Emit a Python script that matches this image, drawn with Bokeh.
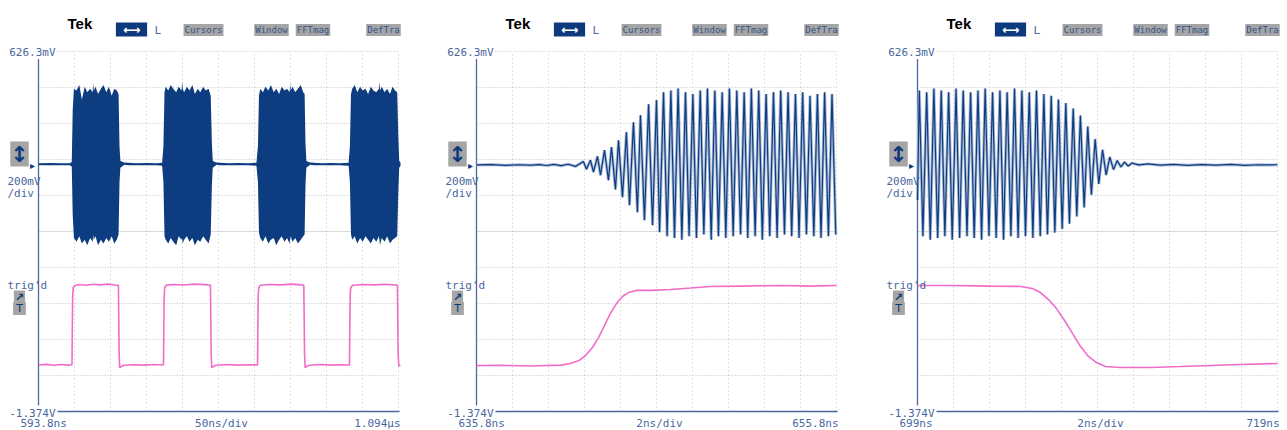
from bokeh.plotting import figure
from bokeh.models import Label
from bokeh.layouts import row
from bokeh.embed import file_html
from bokeh.resources import INLINE

# ---------------- scope settings ----------------
V_TOP = 0.6263
V_BOT = -1.3737
V_DIV = 0.2

PANEL_T0 = [593.8, 635.8, 699.0]
PANEL_TDIV = [50.0, 2.0, 2.0]
TIME_LEFT = ["593.8ns", "635.8ns", "699ns"]
TIME_MID = ["50ns/div", "2ns/div", "2ns/div"]
TIME_RIGHT = ["1.094µs", "655.8ns", "719ns"]
BUTTONS = ["Cursors", "Window", "FFTmag", "DefTra"]

# ---------------- panel 1 : burst envelope (ch1) ----------------
T1 = [593.8, 610.0, 625.0, 637.0, 640.0,
      641.3, 643.0, 646.5, 650.5, 654.0, 658.0, 661.5, 665.5, 669.0, 669.8, 670.6, 673.0, 676.5, 680.5, 684.0, 688.0, 691.5, 695.5, 699.0, 702.5, 705.0, 706.3,
      707.5, 710.0, 713.0, 718.0, 730.0, 745.0, 758.0, 765.5,
      767.3, 768.8, 770.5, 774.0, 777.5, 781.0, 785.0, 788.5, 792.5, 793.3, 794.1, 796.0, 800.0, 803.5, 807.5, 811.0, 815.0, 818.5, 822.5, 826.0, 830.0, 833.0, 834.6,
      835.8, 838.0, 841.0, 846.0, 858.0, 872.0, 886.0, 896.5,
      898.6, 900.0, 901.8, 905.5, 909.0, 913.0, 916.5, 920.5, 924.0, 928.0, 931.5, 935.5, 939.0, 942.5, 943.3, 944.1, 946.5, 950.5, 954.0, 958.0, 961.5, 963.4, 964.6,
      965.8, 968.0, 971.0, 976.0, 988.0, 1000.0, 1012.0, 1024.5,
      1026.3, 1027.8, 1029.5, 1033.0, 1036.5, 1040.5, 1044.0, 1048.0, 1051.5, 1055.5, 1059.0, 1063.0, 1066.5, 1067.3, 1068.1, 1070.5, 1074.5, 1078.0, 1082.0, 1085.5, 1089.0, 1092.0, 1093.6,
      1094.8, 1096.6]
HI1 = [0.006, 0.007, 0.006, 0.006, 0.012,
       0.30, 0.42, 0.41, 0.44, 0.36, 0.43, 0.40, 0.42, 0.40, 0.45, 0.41, 0.43, 0.39, 0.42, 0.44, 0.40, 0.43, 0.38, 0.42, 0.41, 0.39, 0.10,
       0.02, 0.014, 0.010, 0.008, 0.006, 0.007, 0.006, 0.008,
       0.10, 0.40, 0.43, 0.41, 0.44, 0.42, 0.40, 0.43, 0.41, 0.46, 0.42, 0.40, 0.43, 0.41, 0.44, 0.39, 0.42, 0.40, 0.43, 0.41, 0.42, 0.38, 0.12,
       0.02, 0.014, 0.010, 0.008, 0.006, 0.007, 0.006, 0.008,
       0.10, 0.38, 0.42, 0.40, 0.43, 0.41, 0.44, 0.40, 0.42, 0.39, 0.43, 0.41, 0.42, 0.40, 0.45, 0.41, 0.43, 0.40, 0.42, 0.44, 0.40, 0.39, 0.12,
       0.02, 0.014, 0.010, 0.008, 0.006, 0.007, 0.006, 0.008,
       0.10, 0.39, 0.42, 0.44, 0.40, 0.43, 0.41, 0.42, 0.39, 0.43, 0.41, 0.40, 0.42, 0.46, 0.41, 0.43, 0.40, 0.42, 0.39, 0.43, 0.41, 0.40, 0.15,
       0.02, 0.008]
LO1 = [-0.006, -0.005, -0.006, -0.006, -0.012,
       -0.28, -0.41, -0.43, -0.40, -0.44, -0.42, -0.45, -0.41, -0.43, -0.39, -0.42, -0.40, -0.45, -0.42, -0.44, -0.41, -0.43, -0.40, -0.44, -0.42, -0.39, -0.10,
       -0.02, -0.012, -0.003, -0.006, -0.006, -0.005, -0.006, -0.008,
       -0.10, -0.40, -0.42, -0.44, -0.41, -0.43, -0.45, -0.40, -0.42, -0.41, -0.44, -0.42, -0.40, -0.43, -0.41, -0.45, -0.42, -0.43, -0.40, -0.42, -0.44, -0.39, -0.12,
       -0.02, -0.012, -0.003, -0.006, -0.006, -0.005, -0.006, -0.008,
       -0.10, -0.38, -0.41, -0.43, -0.40, -0.44, -0.42, -0.41, -0.45, -0.42, -0.40, -0.43, -0.41, -0.44, -0.42, -0.40, -0.43, -0.41, -0.44, -0.42, -0.40, -0.39, -0.12,
       -0.02, -0.012, -0.003, -0.006, -0.006, -0.005, -0.006, -0.008,
       -0.10, -0.39, -0.42, -0.40, -0.44, -0.41, -0.43, -0.40, -0.42, -0.44, -0.41, -0.43, -0.40, -0.42, -0.45, -0.41, -0.43, -0.40, -0.44, -0.42, -0.41, -0.40, -0.15,
       -0.02, -0.008]

# ---------------- panel 1 : gate (ch2) ----------------
P1_T = [593.8, 605, 615, 625, 635, 640.3, 641.2, 642.0, 644.0, 650, 660, 670, 680, 690, 700, 704.8, 705.8, 706.6, 708.5, 712,
        725, 740, 755, 767.4, 768.3, 769.1, 771, 780, 795, 810, 825, 832.6, 833.6, 834.4, 836.5, 840,
        855, 870, 885, 898.0, 898.9, 899.7, 902, 915, 930, 945, 958, 962.3, 963.3, 964.1, 966, 970,
        985, 1000, 1015, 1025.7, 1026.6, 1027.4, 1030, 1045, 1060, 1075, 1088, 1092.3, 1093.3, 1094.2, 1096.5]
P1_V = [-1.115, -1.112, -1.117, -1.113, -1.116, -1.114, -0.74, -0.685, -0.675, -0.668, -0.672, -0.667, -0.670, -0.666, -0.671, -0.673, -1.05, -1.13, -1.125, -1.117,
        -1.114, -1.116, -1.113, -1.115, -0.74, -0.685, -0.673, -0.668, -0.671, -0.666, -0.669, -0.672, -1.05, -1.13, -1.124, -1.117,
        -1.113, -1.116, -1.114, -1.115, -0.74, -0.686, -0.672, -0.668, -0.670, -0.666, -0.670, -0.673, -1.05, -1.13, -1.124, -1.117,
        -1.113, -1.116, -1.114, -1.115, -0.74, -0.686, -0.672, -0.668, -0.670, -0.667, -0.670, -0.673, -1.05, -1.12, -1.118]

# ---------------- panel 2 : burst start ----------------
E2_T = [635.8, 636.6, 637.4, 638.2, 638.8, 639.3, 639.7, 640.1, 640.5, 640.9, 641.3,
        641.74, 641.91, 642.13, 642.30, 642.52, 642.69, 642.91, 643.13, 643.30, 643.52, 643.69, 643.91,
        644.13, 644.30, 644.52, 644.74, 644.91, 645.13, 645.36, 645.58, 645.80, 645.97,
        646.19, 646.39, 646.60, 646.80, 647.00, 647.21, 647.41, 647.61, 647.82, 648.02, 648.23, 648.43,
        648.63, 648.84, 649.04, 649.24, 649.45, 649.65, 649.85, 650.06, 650.26, 650.47, 650.67, 650.87,
        651.07, 651.28, 651.48, 651.68, 651.89, 652.09, 652.30, 652.50, 652.70, 652.91, 653.11, 653.31,
        653.52, 653.72, 653.92, 654.13, 654.33, 654.54, 654.74, 654.94, 655.14, 655.35, 655.55, 655.76]
E2_V = [-0.004, -0.002, -0.006, -0.003, -0.005, -0.002, -0.007, -0.001, -0.008, 0.0, -0.012,
        0.015, -0.028, 0.022, -0.044, 0.044, -0.061, 0.078, -0.089, 0.095, -0.14, 0.133, -0.183,
        0.178, -0.228, 0.233, -0.267, 0.272, -0.311, 0.333, -0.339, 0.356, -0.378,
        0.40, -0.40, 0.41, -0.41, 0.42, -0.42, 0.40, -0.40, 0.39, -0.41, 0.41, -0.39,
        0.42, -0.42, 0.41, -0.40, 0.40, -0.41, 0.42, -0.40, 0.41, -0.39, 0.40, -0.41,
        0.42, -0.40, 0.41, -0.42, 0.39, -0.40, 0.40, -0.41, 0.41, -0.39, 0.40, -0.40,
        0.39, -0.41, 0.40, -0.39, 0.38, -0.40, 0.39, -0.41, 0.40, -0.40, 0.39, -0.39]
P2_T = [635.8, 637.1, 638.8, 640.5, 641.0, 641.5, 641.86, 642.24, 642.58, 642.91, 643.24, 643.58, 643.91,
        644.24, 644.69, 645.47, 646.58, 647.69, 648.8, 650.47, 652.69, 654.36, 655.8]
P2_V = [-1.118, -1.117, -1.121, -1.116, -1.107, -1.090, -1.063, -1.018, -0.963, -0.896, -0.829, -0.774, -0.735,
        -0.713, -0.701, -0.701, -0.696, -0.688, -0.679, -0.677, -0.674, -0.677, -0.674]

# ---------------- panel 3 : burst end ----------------
E3_T = [699.00, 699.10, 699.30, 699.51, 699.71, 699.91, 700.12, 700.32, 700.52, 700.73, 700.93,
        701.14, 701.34, 701.54, 701.75, 701.95, 702.15, 702.36, 702.56, 702.76, 702.97, 703.17, 703.37,
        703.58, 703.78, 703.98, 704.19, 704.39, 704.59, 704.80, 705.00, 705.21, 705.41, 705.61, 705.82,
        706.02, 706.22, 706.43, 706.63, 706.83, 707.04, 707.24, 707.44, 707.65, 707.85, 708.05, 708.26,
        708.46, 708.66, 708.87, 709.07, 709.28, 709.48, 709.68, 709.89,
        710.09, 710.30, 710.50, 710.71, 710.91, 711.3, 711.8, 712.5, 713.2, 714.0, 714.8, 715.6, 716.4,
        717.2, 718.0, 718.6, 719.0]
E3_V = [-0.20,
        0.41, -0.40, 0.40, -0.42, 0.42, -0.41, 0.41, -0.40, 0.40, -0.42,
        0.42, -0.41, 0.41, -0.40, 0.40, -0.41, 0.41, -0.42, 0.42, -0.40, 0.40, -0.41,
        0.41, -0.42, 0.40, -0.40, 0.42, -0.41, 0.41, -0.40, 0.40, -0.41, 0.41, -0.40,
        0.39, -0.39, 0.38, -0.38, 0.36, -0.36, 0.34, -0.33, 0.31, -0.29, 0.27, -0.24,
        0.21, -0.17, 0.14, -0.11, 0.08, -0.06, 0.04, -0.03,
        0.02, -0.015, 0.012, -0.01, 0.006, -0.004, 0.002, -0.005, -0.001, -0.006, -0.002, -0.005, -0.001,
        -0.006, -0.003, -0.004, -0.003]
P3_T = [699.0, 700.83, 703.06, 704.72, 705.39, 705.83, 706.28, 706.72, 707.17, 707.61, 708.06, 708.5,
        708.94, 709.44, 710.28, 711.94, 713.61, 715.28, 716.94, 719.0]
P3_V = [-0.674, -0.674, -0.677, -0.679, -0.690, -0.713, -0.752, -0.802, -0.868, -0.940, -1.013, -1.068,
        -1.102, -1.124, -1.129, -1.129, -1.124, -1.118, -1.113, -1.107]

# ---------------- styling ----------------
TXT = "#4a679e"
NAVY = "#0d3a7c"
TRACE = "#0e3c80"
LIGHT = "#a9bad4"
PINK = "#f26bc9"
GRID = "#c2c2c2"
BTN = "#a5a5a5"
MONO = "DejaVu Sans Mono"

# pixel x of each panel's left screen edge, and each figure's x-extent on the page
PANEL_L = [38, 476, 917]
FIG_X0 = [0, 430, 860]
FIG_W = [430, 430, 427]
FIG_H = 430


def make_panel(i):
    t0 = PANEL_T0[i]
    tdiv = PANEL_TDIV[i]
    L = PANEL_L[i]
    ns_px = tdiv / 36.0
    v_px = V_DIV / 36.0

    def X(dx):
        return t0 + dx * ns_px

    def Y(ry):
        return V_TOP - (ry - 51) * v_px

    x_start = X(FIG_X0[i] - L)
    p = figure(width=FIG_W[i], height=FIG_H,
               min_border_left=0, min_border_right=0,
               min_border_top=0, min_border_bottom=0,
               x_range=(x_start, x_start + FIG_W[i] * ns_px),
               y_range=(Y(FIG_H), Y(0)),
               x_axis_location=None, y_axis_location=None,
               toolbar_location=None, output_backend="svg",
               outline_line_color=None, background_fill_color="white",
               border_fill_color="white")
    p.xgrid.visible = False
    p.ygrid.visible = False

    t_end = t0 + 10 * tdiv
    # graticule (dotted divisions)
    vt = [t0 + k * tdiv for k in range(1, 11)]
    p.segment(x0=vt, y0=[V_BOT] * len(vt), x1=vt, y1=[V_TOP] * len(vt),
              line_color=GRID, line_dash="1 3", line_width=1)
    hv = [V_TOP - k * V_DIV for k in range(1, 10) if k != 5]
    p.segment(x0=[t0] * len(hv), y0=hv, x1=[t_end] * len(hv), y1=hv,
              line_color=GRID, line_dash="1 2", line_width=1)
    p.segment(x0=[X(19)], y0=[V_TOP], x1=[t_end], y1=[V_TOP],
              line_color=GRID, line_dash="1 2", line_width=1)
    p.segment(x0=[t0], y0=[V_TOP - 5 * V_DIV], x1=[t_end], y1=[V_TOP - 5 * V_DIV],
              line_color="#b5b5b5", line_dash="1 1", line_width=1)

    # screen edges
    p.segment(x0=[t0], y0=[Y(58)], x1=[t0], y1=[Y(405)], line_color=TXT, line_width=1.3)
    p.segment(x0=[X(19)], y0=[V_BOT], x1=[X(361)], y1=[V_BOT], line_color=TXT, line_width=1.3)

    # traces
    if i == 0:
        p.varea(x=T1, y1=LO1, y2=HI1, fill_color=TRACE)
        p.line(P1_T, P1_V, line_color=PINK, line_width=1.6)
    elif i == 1:
        p.line(E2_T, E2_V, line_color=LIGHT, line_width=3)
        p.line(E2_T, E2_V, line_color=TRACE, line_width=1.2)
        p.line(P2_T, P2_V, line_color=PINK, line_width=1.6)
    else:
        p.line(E3_T, E3_V, line_color=LIGHT, line_width=3)
        p.line(E3_T, E3_V, line_color=TRACE, line_width=1.2)
        p.line(P3_T, P3_V, line_color=PINK, line_width=1.6)

    def lab(text, x, y, align="left", size="11px", color=TXT, font=MONO, bg=None,
            pad=0, style="normal", baseline="middle"):
        kw = dict(x=x, y=y, text=text, text_align=align, text_baseline=baseline,
                  text_font_size=size, text_color=color, text_font=font,
                  text_font_style=style, padding=pad)
        if bg is not None:
            kw["background_fill_color"] = bg
        p.add_layout(Label(**kw))

    # header
    lab("Tek", X(29), Y(22.5), size="15px", color="black", font="Liberation Sans",
        style="bold", baseline="alphabetic")
    lab("⟷", X(93), Y(29), align="center", size="12px", color="white",
        font="DejaVu Sans", bg=NAVY, pad=(7, 0), style="bold")
    lab("L", X(116), Y(29.5), size="11px")
    for name, mid in zip(BUTTONS, [165, 233, 274.5, 345]):
        lab(name, X(mid), Y(29.5), align="center", size="9px", color="#34538a",
            bg=BTN, pad=(1, 1))

    # left side
    lab("626.3mV", X(17), Y(52), align="right", bg="white")
    lab("↕", X(-19), Y(153.5), align="center", size="22px", color=NAVY,
        font="DejaVu Sans", bg=BTN, pad=(0, 0), style="bold")
    lab("▸", X(-6), Y(164.5), align="center", size="10px", color=NAVY, font="DejaVu Sans")
    lab("200mV", X(-31), Y(180.5))
    lab("/div", X(-31), Y(192.5))
    lab("trig'd", X(-31), Y(284.5))
    lab("↗", X(-19), Y(296.5), align="center", size="11px", color=NAVY,
        font="DejaVu Sans", bg=BTN, pad=(1, 0), style="bold")
    lab("T", X(-19), Y(308), align="center", size="11px", color=NAVY,
        font="DejaVu Sans", bg=BTN, pad=(3, 0))
    lab("-1.374V", X(17), Y(412.5), align="right")

    # time labels
    lab(TIME_LEFT[i], X(-18), Y(423))
    lab(TIME_MID[i], X(183), Y(423), align="center")
    lab(TIME_RIGHT[i], X(362), Y(423), align="right")
    return p


panels = [make_panel(i) for i in range(3)]
layout = row(*panels)
open("out.html", "w").write(file_html(layout, INLINE))
